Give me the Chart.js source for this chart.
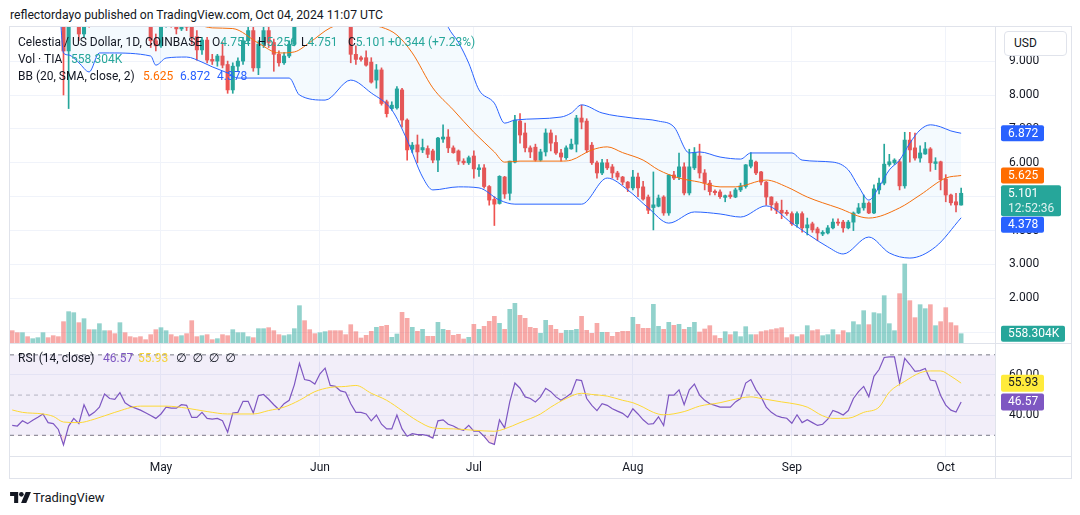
<!DOCTYPE html>
<html>
<head>
<meta charset="utf-8">
<script src="https://cdn.jsdelivr.net/npm/chart.js@4.4.0/dist/chart.umd.min.js"></script>
<style>
  body { margin: 0; background: #fff; font-family: Roboto, "DejaVu Sans", sans-serif; color: #131722; }
  #page { position: relative; width: 1080px; height: 515px; overflow: hidden; }
  .abs { position: absolute; white-space: pre; line-height: 14px; }
  .frame { position: absolute; left: 9px; top: 26px; width: 1061px; height: 451px; border: 1px solid #e0e3eb; }
  .hline { position: absolute; height: 1px; background: #e0e3eb; }
  .vline { position: absolute; width: 1px; background: #e0e3eb; }
  .lg { font-size: 12px; }
  .g { color: #26a69a; }
</style>
</head>
<body>
<div id="page">
  <div class="abs" style="left:10px; top:8px; font-size:12.2px;">reflectordayo published on TradingView.com, Oct 04, 2024 11:07 UTC</div>
  <div class="frame"></div>
  <canvas id="price" width="1061" height="316" style="position:absolute; left:10px; top:27px;"></canvas>
  <canvas id="rsi" width="1061" height="135" style="position:absolute; left:10px; top:343px;"></canvas>
  <div class="hline" style="left:10px; top:343px; width:1061px;"></div>
  <div class="hline" style="left:10px; top:456px; width:1061px;"></div>
  <div class="vline" style="left:995px; top:27px; height:451px;"></div>

  <!-- legend, main pane -->
  <div class="abs lg" style="left:18px; top:35px;">Celestia / US Dollar, 1D, COINBASE</div>
  <div class="abs lg" style="left:212px; top:35px;">O<span class="g">4.754</span></div>
  <div class="abs lg" style="left:258px; top:35px;">H<span class="g">5.256</span></div>
  <div class="abs lg" style="left:301px; top:35px;">L<span class="g">4.751</span></div>
  <div class="abs lg" style="left:348px; top:35px;">C<span class="g">5.101</span></div>
  <div class="abs lg g" style="left:388px; top:35px;">+0.344 (+7.23%)</div>
  <div class="abs lg" style="left:18px; top:52px;">Vol · TIA</div>
  <div class="abs lg g" style="left:71px; top:52px;">558.304K</div>
  <div class="abs lg" style="left:18px; top:69px;">BB (20, SMA, close, 2)</div>
  <div class="abs lg" style="left:143px; top:69px; color:#FF6D00;">5.625</div>
  <div class="abs lg" style="left:180px; top:69px; color:#2962FF;">6.872</div>
  <div class="abs lg" style="left:217px; top:69px; color:#2962FF;">4.378</div>

  <!-- legend, RSI pane -->
  <div class="abs lg" style="left:18px; top:351px;">RSI (14, close)</div>
  <div class="abs lg" style="left:103px; top:351px; color:#7E57C2;">46.57</div>
  <div class="abs lg" style="left:138px; top:351px; color:#F5D33A;">55.93</div>
  <div class="abs lg" style="left:176px; top:351px;">∅  ∅  ∅  ∅</div>

  <!-- currency button -->
  <div style="position:absolute; left:1004px; top:31px; width:61px; height:23px; border:1px solid #e0e3eb; border-radius:4px; background:#fff; font-size:12px; line-height:23px;"><span style="margin-left:9px;">USD</span></div>

  <!-- footer -->
  <svg style="position:absolute; left:10px; top:492px;" width="21" height="11" viewBox="0 0 36 19">
    <path d="M0 0h14v19H7V7H0z" fill="#131722"/>
    <circle cx="19.5" cy="4" r="4" fill="#131722"/>
    <path d="M27 0h9l-8 19h-9z" fill="#131722"/>
  </svg>
  <div class="abs" style="left:33px; top:490px; font-size:13px; line-height:16px;">TradingView</div>
</div>

<script>
// day index 0 = Apr 2, 2024 ... 185 = Oct 4, 2024
const monthTicks = [29, 60, 90, 121, 152, 182];
const monthLabels = ['May', 'Jun', 'Jul', 'Aug', 'Sep', 'Oct'];
const priceTicks = [1, 2, 3, 4, 5, 6, 7, 8, 9];
const rsiTicks = [40, 60];
const rsiBands = [70, 50, 30];

const opens = [12.8,12.4,12.1,12.5,12.2,12.3,12.6,13.2,12.9,12.4, 11.8,9.3,10.5,11.2,9.8,10.6,10.2,10.8,11.3,11.6,
  11.2,10.9,11.7,11.3,11.0,10.8,10.5,10.3,9.6,9.45, 10.1,10.4,10.1,9.95,10.3,10.0,9.72,9.33,9.62,9.05,
  9.0,9.15,8.9,8.15,8.85,9.0,9.6,9.9,8.8,9.5, 9.9,9.55,9.2,8.95,9.15,9.5,10.4,11.2,10.8,10.5,
  10.4,10.8,11.1,10.8,10.6,10.4,10.2,9.2,9.1,9.1, 8.97,8.44,8.74,7.8,7.6,7.62,8.15,7.26,6.4,6.53,
  6.38,6.42,6.35,6.08,6.7,6.76,6.44,6.35,6.05,6.0, 6.2,5.8,5.85,5.3,4.92,4.8,5.58,5.1,6.02,7.23,
  6.88,6.44,6.46,6.08,6.32,6.88,6.6,6.29,6.15,6.41, 6.55,7.32,7.23,6.52,6.0,5.7,6.0,5.88,5.7,5.58,
  5.43,5.26,5.58,5.29,4.99,4.68,4.72,4.99,4.52,5.64, 5.58,5.88,5.11,5.85,6.2,5.7,5.4,5.16,5.14,4.98,
  5.05,4.99,5.2,5.3,5.9,6.02,5.73,5.43,4.99,4.8, 4.6,4.54,4.5,4.2,4.5,4.08,4.2,4.05,3.9,3.93,
  4.08,4.25,4.25,4.08,4.25,4.52,4.67,4.81,4.52,5.2, 5.4,5.95,6.0,6.03,5.32,6.67,6.44,6.14,6.26,6.41,
  5.98,6.03,5.52,5.05,4.85,4.754];
const highs = [13.0,12.6,12.6,12.7,12.5,12.8,13.4,13.3,13.0,12.5, 12.0,10.8,11.4,11.3,10.8,10.8,10.9,11.4,11.8,11.7,
  11.4,11.9,11.8,11.4,11.2,10.9,10.7,10.4,9.8,10.2, 10.5,10.5,10.2,10.4,10.4,10.1,9.9,9.7,9.7,9.2,
  9.2,9.55,9.0,8.95,9.1,9.7,10.0,10.0,9.6,10.1, 10.1,9.65,9.3,9.25,9.6,10.5,11.4,11.5,11.0,10.7,
  10.9,11.3,11.2,10.9,10.7,10.5,10.4,9.45,9.15,9.3, 9.1,8.9,8.8,7.85,7.8,8.25,8.2,7.3,6.6,6.82,
  6.7,6.5,6.4,6.75,7.12,6.98,6.5,6.38,6.12,6.2, 6.35,5.95,5.95,5.33,5.0,5.62,5.6,6.05,7.4,7.45,
  7.17,6.5,6.55,6.4,7.0,6.97,6.8,6.4,6.5,6.7, 7.4,7.7,7.3,6.6,6.05,6.1,6.1,5.95,5.75,5.6,
  5.45,5.78,5.7,5.45,5.05,5.73,5.05,5.03,5.65,5.75, 6.29,6.0,6.4,6.45,6.55,5.8,5.48,5.2,5.2,5.05,
  5.15,5.25,5.4,5.95,6.3,6.05,5.75,5.45,5.0,4.85, 4.9,4.6,4.55,4.55,4.55,4.37,4.25,4.1,4.0,4.15,
  4.35,4.35,4.3,4.3,4.55,4.8,5.05,4.85,5.35,5.55, 6.55,6.25,6.12,6.1,6.9,6.9,6.88,6.5,6.6,6.45,
  6.15,6.05,5.65,5.08,5.1,5.256];
const lows = [12.2,12.0,12.0,12.1,12.0,12.2,12.5,12.8,12.3,11.6, 8.0,7.6,10.2,9.6,9.7,10.0,10.1,10.6,11.1,11.0,
  10.8,10.8,11.2,10.9,10.7,10.4,10.2,9.4,9.3,9.4, 10.0,10.0,9.8,9.9,9.9,9.5,9.03,9.2,8.95,8.9,
  8.85,8.8,8.05,8.05,8.7,8.9,9.5,8.7,8.6,9.4, 9.4,8.7,8.85,8.9,9.1,9.45,10.3,10.7,10.4,10.3,
  10.3,10.7,10.7,10.5,10.3,10.1,8.95,8.9,9.0,8.85, 8.35,8.2,7.7,7.35,7.55,7.58,7.05,6.08,6.3,6.0,
  6.3,6.15,6.0,5.74,6.6,6.3,6.28,5.95,5.95,5.95, 5.55,5.6,5.25,4.75,4.15,4.78,4.95,4.9,6.0,6.58,
  6.32,6.15,6.05,6.05,6.2,6.35,6.25,6.05,6.1,6.4, 6.32,7.0,6.3,5.95,5.55,5.65,5.8,5.55,5.5,5.35,
  5.15,5.2,5.0,4.9,4.5,4.02,4.7,4.45,4.45,5.5, 5.5,5.05,5.05,5.8,5.55,5.2,5.05,5.05,4.95,4.85,
  4.95,4.97,5.15,5.25,5.85,5.65,5.35,4.75,4.6,4.5, 4.35,4.45,4.15,4.1,3.95,3.87,3.95,3.7,3.85,3.9,
  4.05,4.15,3.95,4.05,4.0,4.5,4.6,4.5,4.5,5.08, 5.35,5.9,5.95,5.2,5.25,6.02,6.08,6.02,6.25,5.75,
  5.8,5.2,4.85,4.75,4.55,4.751];
const closes = [12.4,12.1,12.5,12.2,12.3,12.6,13.2,12.9,12.4,11.8, 9.3,10.5,11.2,9.8,10.6,10.2,10.8,11.3,11.6,11.2,
  10.9,11.7,11.3,11.0,10.8,10.5,10.3,9.6,9.45,10.1, 10.4,10.1,9.95,10.3,10.0,9.72,9.33,9.62,9.03,9.0,
  9.15,8.88,8.15,8.85,9.0,9.6,9.9,8.8,9.5,9.9, 9.55,9.2,8.95,9.15,9.5,10.4,11.2,10.8,10.5,10.4,
  10.8,11.1,10.8,10.6,10.4,10.2,9.2,9.05,9.05,8.88, 8.38,8.74,7.75,7.45,7.7,8.18,7.26,6.38,6.52,6.32,
  6.45,6.25,6.08,6.73,6.76,6.44,6.3,6.05,6.0,6.15, 5.82,5.85,5.3,4.9,4.78,5.6,5.08,6.05,7.26,6.82,
  6.44,6.32,6.08,6.32,6.88,6.58,6.29,6.17,6.44,6.55, 7.32,7.2,6.38,6.0,5.7,6.0,5.85,5.7,5.58,5.43,
  5.26,5.58,5.26,4.93,4.6,4.76,4.96,4.52,5.64,5.55, 5.88,5.11,5.88,6.3,5.7,5.4,5.15,5.12,5.0,5.03,
  5.0,5.2,5.32,5.94,6.08,5.7,5.43,4.99,4.76,4.6, 4.52,4.5,4.2,4.5,4.08,4.17,4.02,3.93,3.95,4.08,
  4.25,4.22,4.08,4.25,4.52,4.67,4.81,4.52,5.23,5.4, 5.96,6.03,6.08,5.32,6.67,6.38,6.14,6.29,6.41,6.0,
  6.03,5.5,5.05,4.82,4.757,5.101];
// volume in thousands of TIA
const volumes = [740,620,620,380,260,320,620,320,440,380, 1280,1880,1820,1220,1460,800,800,1160,740,740,
  560,1220,620,380,320,380,200,500,800,920, 740,500,380,440,560,1340,380,440,500,200,
  260,500,440,800,620,620,380,320,860,860, 920,740,500,440,500,860,2240,1340,800,560,
  620,680,740,740,740,500,1100,680,300,460, 700,940,1000,1060,340,540,1840,1480,940,700,
  820,400,400,1240,820,760,460,520,240,340, 1120,820,1000,1300,1600,1180,820,2020,2380,1660,
  1480,940,880,580,1360,1060,820,580,760,760, 820,1600,760,580,1180,640,640,400,640,700,
  700,1540,1120,880,880,2320,1000,820,1240,1060, 1120,820,940,1240,660,840,1040,440,280,680,
  500,680,380,980,500,500,680,740,800,860, 920,320,500,380,500,1040,740,800,440,500,
  800,500,740,620,1280,1100,1940,1100,1820,1760, 2840,1160,740,2960,4740,2540,1520,2300,2060,2300,
  1040,1280,2120,1220,1040,558.304];

// Bollinger Bands (20, 2): [day, value]
const bbUpper = [[0,13.6],[5,13.7],[9,13.3],[10,14.0],[13,14.2],[17,13.0],[22,12.6],[27,12.0],[30,11.6],[34,11.3],
  [39,11.1],[42,11.3],[48,10.6],[52,10.1],[54,10.04],[56,10.8],[61,11.95],[66,11.9],[70,12.0],[75,12.0],
  [80,11.7],[82,11.2],[85,10.0],[87,9.55],[89,8.94],[91,8.15],[94,7.76],[96,7.17],[98,7.26],[107,7.35],
  [109,7.47],[111,7.71],[115,7.47],[121,7.32],[126,7.23],[129,7.06],[132,6.29],[134,6.32],[138,6.17],[142,6.11],
  [144,6.29],[152,6.29],[154,6.08],[160,6.02],[163,5.79],[165,5.3],[167,4.9],[169,5.29],[171,5.79],[173,6.08],
  [175,6.58],[177,6.97],[179,7.12],[181,7.06],[183,6.94],[185,6.872]];
const bbBasis = [[0,12.2],[10,11.8],[17,11.1],[25,10.7],[33,10.3],[39,9.98],[43,9.96],[48,9.53],[52,9.24],[55,9.27],
  [58,9.55],[62,9.98],[66,10.15],[70,10.05],[72,10.0],[75,9.77],[78,9.24],[82,8.21],[86,7.56],[90,6.9],
  [94,6.32],[96,6.02],[99,6.05],[107,6.05],[109,6.08],[113,6.38],[116,6.47],[119,6.3],[123,6.08],[126,5.79],
  [130,5.55],[134,5.43],[138,5.29],[141,5.29],[147,5.49],[151,5.29],[155,4.99],[161,4.67],[167,4.37],[173,4.67],
  [177,5.05],[182,5.55],[185,5.625]];
const bbLower = [[0,11.2],[5,11.3],[9,10.9],[10,9.24],[11,9.18],[13,8.95],[15,8.68],[17,9.24],[19,9.24],[27,9.15],
  [28,8.88],[30,9.09],[34,9.12],[37,8.97],[39,8.83],[42,8.65],[44,8.5],[54,8.5],[56,8.0],[61,7.85],
  [66,8.44],[70,8.06],[74,7.56],[77,6.67],[80,5.58],[82,5.2],[87,5.29],[91,5.26],[95,4.9],[98,4.78],
  [111,4.78],[116,5.55],[120,5.2],[124,4.67],[128,4.22],[133,4.55],[138,4.49],[142,4.4],[147,4.73],[152,4.22],
  [159,3.52],[162,3.31],[167,3.81],[171,3.34],[175,3.19],[180,3.52],[185,4.378]];

// RSI (14) and its moving average
const rsi = [34.9,34.6,37.2,35.8,37.5,39.0,40.6,36.3,35.8,32.9, 25.2,34.6,38.4,35.8,45.2,39.7,41.4,44.0,50.5,48.3,
  47.9,51.2,46.2,44.5,43.5,42.5,41.2,39.8,38.4,40.6, 44.0,43.5,43.5,45.2,44.9,38.9,38.9,41.4,38.4,38.0,
  38.4,37.2,31.5,41.1,41.4,46.9,46.9,41.1,49.7,50.3, 47.9,45.2,42.8,45.7,47.4,55.1,65.8,57.7,57.2,55.5,
  60.6,63.4,54.8,54.3,52.1,51.4,45.7,41.4,41.4,40.6, 37.2,40.1,35.5,33.2,33.2,40.1,33.2,29.5,30.8,30.3,
  30.3,29.8,28.6,37.2,37.7,35.5,34.6,33.2,32.5,34.9, 32.0,32.0,29.5,26.4,25.5,37.7,33.7,46.6,56.0,53.4,
  49.1,48.3,46.6,49.1,53.4,51.7,49.1,47.4,49.1,50.9, 57.7,57.2,48.3,44.9,42.3,45.7,44.9,43.2,42.0,40.9,
  38.9,43.2,40.6,37.7,35.5,35.8,39.2,34.9,50.0,50.0, 52.6,45.2,52.6,55.5,50.0,47.4,45.7,44.9,44.0,44.0,
  44.0,46.6,48.3,56.0,57.7,52.6,49.1,44.0,41.4,39.7, 38.9,38.5,36.0,40.2,36.3,37.7,36.3,34.9,35.5,38.0,
  42.3,41.4,40.1,42.3,48.3,51.7,54.3,49.1,59.3,62.7, 68.7,69.0,69.0,55.8,68.3,65.2,61.8,62.2,63.2,57.5,
  57.0,49.8,45.0,42.5,41.6,46.57];
const rsiMa = [[0,42.6],[2,41.4],[6,40.6],[8,39.4],[10,36.6],[13,36.3],[16,38.0],[20,41.4],[25,44.5],[30,44.5],
  [34,43.5],[38,41.8],[42,40.6],[47,40.6],[50,42.3],[53,44.0],[56,47.4],[59,51.7],[62,53.8],[65,54.3],
  [67,54.8],[70,50.9],[73,47.4],[76,42.3],[79,37.2],[82,33.7],[86,33.2],[90,32.5],[94,32.0],[96,33.2],
  [99,36.3],[103,40.6],[105,44.0],[108,48.3],[111,50.9],[113,50.3],[116,49.5],[119,47.4],[121,46.2],[123,44.0],
  [125,41.4],[127,40.2],[131,41.8],[134,44.5],[138,46.2],[140,47.4],[144,49.1],[146,48.3],[150,46.6],[153,45.4],
  [155,44.0],[158,39.7],[160,38.4],[163,38.5],[166,41.4],[169,44.0],[171,51.5],[174,56.8],[177,61.1],[179,62.0],
  [181,62.0],[183,59.4],[185,55.93]];

const countdown = '12:52:36';

Chart.defaults.font.family = 'Roboto, "DejaVu Sans", sans-serif';
Chart.defaults.font.size = 12;
Chart.defaults.color = '#131722';

const X_MIN = -0.43, X_MAX = 191.6;
const UP = '#26a69a', DOWN = '#ef5350';
const days = closes.map((c, i) => i);
const candleColor = days.map(i => closes[i] >= opens[i] ? UP : DOWN);
const volColor = days.map(i => closes[i] >= opens[i] ? 'rgba(38,166,154,0.5)' : 'rgba(239,83,80,0.5)');
const toPts = pairs => pairs.map(p => ({ x: p[0], y: p[1] }));
const last = arr => { const v = arr[arr.length - 1]; return Array.isArray(v) ? v[1] : v; };

// stop the axes from reserving extra room above / below the plot
const noPad = s => { s.paddingTop = 0; s.paddingBottom = 0; s.paddingLeft = 0; s.paddingRight = 0; };

function drawTag(ctx, x, top, w, h, bg, texts, colors) {
  ctx.save();
  ctx.fillStyle = bg;
  ctx.beginPath();
  ctx.roundRect(x, top, w, h, 2);
  ctx.fill();
  ctx.font = '12px Roboto, "DejaVu Sans", sans-serif';
  ctx.textBaseline = 'middle';
  texts.forEach((t, k) => {
    ctx.fillStyle = colors[k];
    ctx.fillText(t, x + 7, top + 8.5 + k * 15);
  });
  ctx.restore();
}

function monthScale(showLabels) {
  return {
    type: 'linear', min: X_MIN, max: X_MAX, offset: false,
    grid: { color: '#f0f3fa', drawTicks: false, offset: false },
    border: { display: false },
    afterBuildTicks: s => { s.ticks = monthTicks.map(v => ({ value: v })); },
    ticks: showLabels
      ? { display: true, autoSkip: false, maxRotation: 0, padding: 5, color: '#131722',
          callback: v => monthLabels[monthTicks.indexOf(v)] }
      : { display: false },
    afterFit: s => { s.height = showLabels ? 22 : 0; noPad(s); }
  };
}

const priceTags = {
  id: 'priceTags',
  afterDraw(chart) {
    const ctx = chart.ctx, y = chart.scales.y, vol = chart.scales.vol;
    const x0 = chart.chartArea.right + 6;
    drawTag(ctx, x0, y.getPixelForValue(last(bbUpper)) - 8, 43, 16, '#2962FF', [last(bbUpper).toFixed(3)], ['#fff']);
    drawTag(ctx, x0, y.getPixelForValue(last(bbBasis)) - 8, 43, 16, '#FF6D00', [last(bbBasis).toFixed(3)], ['#fff']);
    const cTop = y.getPixelForValue(last(closes)) - 8;
    drawTag(ctx, x0, cTop, 60, 31, UP, [last(closes).toFixed(3), countdown], ['#fff', 'rgba(255,255,255,0.85)']);
    const lTop = Math.max(y.getPixelForValue(last(bbLower)) - 8, cTop + 31.5);
    drawTag(ctx, x0, lTop, 43, 16, '#2962FF', [last(bbLower).toFixed(3)], ['#fff']);
    drawTag(ctx, x0, vol.getPixelForValue(last(volumes)) - 8, 64, 16, UP, [last(volumes).toFixed(3) + 'K'], ['#fff']);
  }
};

new Chart(document.getElementById('price'), {
  type: 'bar',
  data: {
    datasets: [
      { label: 'Volume', yAxisID: 'vol', data: days.map(i => ({ x: i, y: volumes[i] })),
        backgroundColor: volColor, barThickness: 4, grouped: false, order: 10 },
      { label: 'Wick', data: days.map(i => ({ x: i, y: [lows[i], highs[i]] })),
        backgroundColor: candleColor, barThickness: 1, grouped: false, clip: 0, order: 4 },
      { label: 'Body', data: days.map(i => ({ x: i, y: [Math.min(opens[i], closes[i]), Math.max(opens[i], closes[i])] })),
        backgroundColor: candleColor, barThickness: 3.4, minBarLength: 1, grouped: false, clip: 0, order: 3 },
      { type: 'line', label: 'Upper', data: toPts(bbUpper), borderColor: '#2962FF', borderWidth: 1,
        pointRadius: 0, cubicInterpolationMode: 'monotone', fill: 5, backgroundColor: 'rgba(33,150,243,0.05)', order: 1 },
      { type: 'line', label: 'Basis', data: toPts(bbBasis), borderColor: '#FF6D00', borderWidth: 1,
        pointRadius: 0, cubicInterpolationMode: 'monotone', fill: false, order: 1 },
      { type: 'line', label: 'Lower', data: toPts(bbLower), borderColor: '#2962FF', borderWidth: 1,
        pointRadius: 0, cubicInterpolationMode: 'monotone', fill: false, order: 1 }
    ]
  },
  options: {
    responsive: false, animation: false, events: [], devicePixelRatio: 1,
    layout: { padding: 0, autoPadding: false },
    plugins: { legend: { display: false }, tooltip: { enabled: false } },
    scales: {
      x: monthScale(false),
      y: {
        position: 'right', min: 0.684, max: 10.006,
        grid: { color: '#f0f3fa', drawTicks: false }, border: { display: false },
        afterBuildTicks: s => { s.ticks = priceTicks.map(v => ({ value: v })); },
        ticks: { padding: 14, color: '#131722', callback: v => v.toFixed(3) },
        afterFit: s => { s.width = 76; noPad(s); }
      },
      vol: { display: false, min: 0, max: 18960 }
    }
  },
  plugins: [priceTags]
});

const rsiTags = {
  id: 'rsiTags',
  afterDraw(chart) {
    const ctx = chart.ctx, y = chart.scales.y;
    const x0 = chart.chartArea.right + 6;
    drawTag(ctx, x0, y.getPixelForValue(last(rsiMa)) - 8.5, 43, 17, '#FFEB3B', [last(rsiMa).toFixed(2)], ['#131722']);
    drawTag(ctx, x0, y.getPixelForValue(last(rsi)) - 8.5, 43, 17, '#7E57C2', [last(rsi).toFixed(2)], ['#fff']);
  }
};

const bandLine = (v, color, fill) => ({
  label: 'band ' + v, data: [{ x: X_MIN, y: v }, { x: X_MAX, y: v }],
  borderColor: color, borderWidth: 1, borderDash: [4, 4], pointRadius: 0,
  fill: fill, backgroundColor: 'rgba(126,87,194,0.1)', order: 5
});

new Chart(document.getElementById('rsi'), {
  type: 'line',
  data: {
    datasets: [
      bandLine(rsiBands[0], '#787B86', 2),
      bandLine(rsiBands[1], 'rgba(120,123,134,0.5)', false),
      bandLine(rsiBands[2], '#787B86', false),
      { label: 'RSI', data: days.map(i => ({ x: i, y: rsi[i] })), borderColor: '#7E57C2', borderWidth: 1.2,
        pointRadius: 0, tension: 0,
        fill: { target: { value: rsiBands[2] }, above: 'rgba(0,0,0,0)', below: 'rgba(242,54,69,0.15)' }, order: 2 },
      { label: 'RSI MA', data: toPts(rsiMa), borderColor: '#FDD835', borderWidth: 1,
        pointRadius: 0, cubicInterpolationMode: 'monotone', fill: false, order: 1 }
    ]
  },
  options: {
    responsive: false, animation: false, events: [], devicePixelRatio: 1,
    layout: { padding: 0, autoPadding: false },
    plugins: { legend: { display: false }, tooltip: { enabled: false } },
    scales: {
      x: monthScale(true),
      y: {
        position: 'right', min: 19.7, max: 75.9,
        grid: { color: '#f0f3fa', drawTicks: false }, border: { display: false },
        afterBuildTicks: s => { s.ticks = rsiTicks.map(v => ({ value: v })); },
        ticks: { padding: 14, color: '#131722', callback: v => v.toFixed(2) },
        afterFit: s => { s.width = 76; noPad(s); }
      }
    }
  },
  plugins: [rsiTags]
});
</script>
</body>
</html>
